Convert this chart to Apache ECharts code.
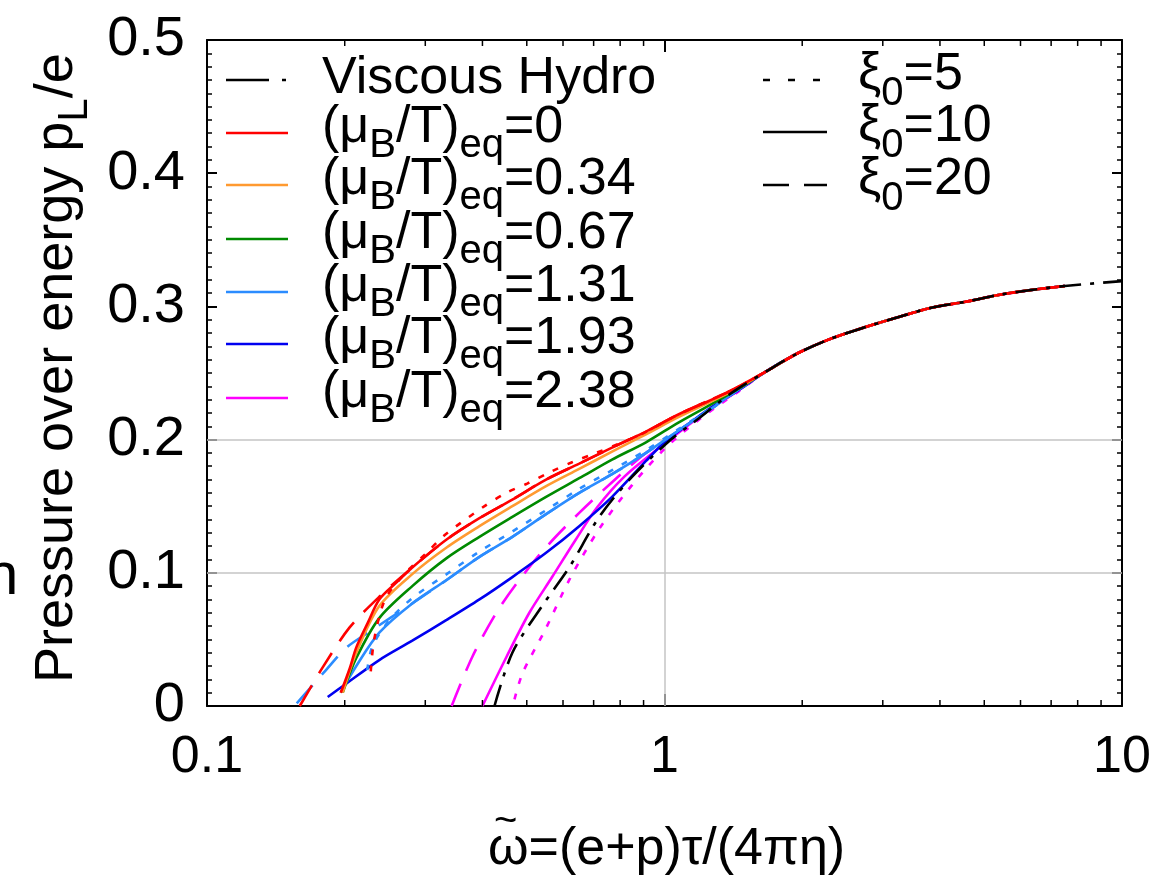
<!DOCTYPE html>
<html><head><meta charset="utf-8">
<script src="https://cdn.jsdelivr.net/npm/echarts@6/dist/echarts.min.js"></script>
<style>html,body{margin:0;padding:0;background:#fff}#c{width:1158px;height:880px}</style>
</head><body><div id="c"></div>
<script>
// ---------- data (x = omega tilde, y = pL/e) ----------
const xTicks = [0.1, 1, 10];
const yTicks = [0, 0.1, 0.2, 0.3, 0.4, 0.5];
const xMinorTicks = [0.2,0.3,0.4,0.5,0.6,0.7,0.8,0.9,2,3,4,5,6,7,8,9];
const gridY = [0.1, 0.2];
const gridX = [1];

// common late-time tail shared by the kinetic curves
const tail = [[1.665,0.251],[1.96,0.265],[2.32,0.276],[2.75,0.2845],[3.25,0.292],[3.83,0.299],[4.55,0.3035],[5.37,0.3086],[6.33,0.3123],[7.5,0.3153]];

const hydro = [[0.425,0.0],[0.465,0.040],[0.54,0.075],[0.619,0.104],[0.72,0.142],[0.849,0.172],[1.033,0.200],[1.19,0.216],[1.40,0.235],[1.665,0.251],[1.96,0.265],[2.32,0.276],[2.75,0.2845],[3.25,0.292],[3.83,0.299],[4.55,0.3035],[5.37,0.3086],[6.33,0.3123],[7.5,0.3153],[10,0.319]];

const red10 = [[0.196,0.010],[0.205,0.028],[0.212,0.044],[0.225,0.063],[0.238,0.080],[0.26,0.093],[0.281,0.104],[0.334,0.125],[0.394,0.141],[0.465,0.155],[0.551,0.170],[0.651,0.182],[0.768,0.194],[0.911,0.206],[1.075,0.219],[1.25,0.229],[1.40,0.237]];
const red5  = [[0.228,0.026],[0.232,0.050],[0.245,0.080],[0.27,0.099],[0.302,0.115],[0.330,0.128],[0.40,0.149],[0.451,0.160],[0.501,0.167],[0.565,0.176],[0.628,0.183],[0.709,0.190],[0.796,0.197],[0.889,0.204],[1.075,0.219],[1.40,0.237]];
const red20 = [[0.1595,0.0],[0.179,0.029],[0.205,0.059],[0.238,0.082],[0.281,0.104],[0.334,0.125],[0.394,0.141],[0.465,0.155],[0.551,0.170],[0.651,0.182],[0.768,0.194],[0.911,0.206],[1.075,0.219],[1.40,0.237]];
const orange10 = [[0.198,0.010],[0.212,0.040],[0.238,0.075],[0.281,0.099],[0.334,0.119],[0.394,0.135],[0.465,0.150],[0.551,0.165],[0.651,0.178],[0.768,0.191],[0.911,0.204],[1.075,0.217],[1.40,0.236]];
const green10 = [[0.198,0.010],[0.212,0.036],[0.238,0.066],[0.281,0.090],[0.334,0.111],[0.394,0.127],[0.465,0.142],[0.551,0.157],[0.651,0.171],[0.768,0.185],[0.911,0.198],[1.075,0.213],[1.40,0.235]];
const lblue10 = [[0.196,0.010],[0.212,0.030],[0.238,0.055],[0.281,0.077],[0.334,0.0946],[0.394,0.112],[0.465,0.127],[0.551,0.144],[0.651,0.160],[0.768,0.174],[0.911,0.190],[1.075,0.207],[1.27,0.2235],[1.40,0.2340]];
const lblue5  = [[0.224,0.027],[0.230,0.045],[0.25,0.064],[0.281,0.081],[0.334,0.099],[0.394,0.116],[0.465,0.131],[0.551,0.147],[0.651,0.163],[0.768,0.177],[0.911,0.192],[1.075,0.208],[1.27,0.224],[1.40,0.234]];
const lblue20 = [[0.1571,0.002],[0.182,0.027],[0.202,0.044],[0.227,0.056],[0.281,0.077],[0.334,0.0946],[0.394,0.112],[0.465,0.127],[0.551,0.144],[0.651,0.160],[0.768,0.174],[0.911,0.190],[1.075,0.207],[1.27,0.2235],[1.40,0.2340]];
const blue10 = [[0.1836,0.0068],[0.2,0.016],[0.238,0.0345],[0.281,0.049],[0.334,0.0646],[0.394,0.080],[0.465,0.0968],[0.551,0.115],[0.651,0.135],[0.768,0.157],[0.911,0.184],[1.0,0.198],[1.1,0.209],[1.25,0.223],[1.45,0.237]];
const mag20 = [[0.3426,0.0],[0.38,0.0368],[0.429,0.070],[0.4815,0.0946],[0.5515,0.1194],[0.651,0.145],[0.768,0.168],[0.911,0.190],[1.075,0.206],[1.25,0.222],[1.45,0.237]];
const mag10 = [[0.40,0.0],[0.4516,0.037],[0.5065,0.070],[0.568,0.0968],[0.64,0.125],[0.712,0.149],[0.816,0.172],[0.958,0.192],[1.1,0.208],[1.25,0.222],[1.45,0.237]];
const mag5  = [[0.47,0.005],[0.49,0.025],[0.55,0.058],[0.62,0.095],[0.72,0.133],[0.85,0.166],[1.0,0.193],[1.2,0.216],[1.45,0.236]];

const muLabels = ['0','0.34','0.67','1.31','1.93','2.38'];
const xiLabels = ['5','10','20'];

// ---------- styling ----------
const FONT = '"Liberation Sans", Arial, Helvetica, sans-serif';
const C = {red:'#ff0000', orange:'#ff9a30', green:'#008a00', lblue:'#2b8cff', blue:'#0000f0', mag:'#ff00ff', black:'#000000'};
const DOT = [6,10], DASH = [24,14], DASHDOT = [22,9,4,9];
const LF = 52, SF = 40;  // legend font, subscript font

const ctx2 = document.createElement('canvas').getContext('2d');
function tw(t, s){ ctx2.font = s + 'px ' + FONT; return ctx2.measureText(t).width; }
function txt(x, base, t, s, extra){
  return Object.assign({type:'text', x:x, y:base - 0.347*s, silent:true,
    style:{text:t, font: s+'px '+FONT, fill:'#000', align:'left', verticalAlign:'middle'}}, extra||{});
}
function rich(x0, base, parts){
  const out=[]; let x=x0;
  parts.forEach(p=>{ out.push(txt(x, base+(p.dy||0), p.t, p.s)); x += tw(p.t,p.s) + (p.g||0); });
  return out;
}
function lineEl(x1,x2,y,color,dash){
  return {type:'line', silent:true, shape:{x1:x1,y1:y,x2:x2,y2:y}, style:{stroke:color, lineWidth:2.5, lineDash:dash||null}};
}

function mk(name, data, color, dash, z){
  return {type:'line', name:name, data:data, showSymbol:false, symbol:'none', smooth:0.3, z:z||3,
    lineStyle:{color:color, width:2.6, type: dash||'solid', cap:'butt'}, animation:false, silent:true};
}

const series = [
  {type:'line', data:[], z:1, silent:true, markLine:{silent:true, symbol:['none','none'], z:1, animation:false,
    label:{show:false}, lineStyle:{color:'#c4c4c4', width:1.5, type:'solid'},
    data: gridY.map(v=>({yAxis:v})).concat(gridX.map(v=>[{coord:[v,0]},{coord:[v,0.2]}]))}},
  mk('mag5', mag5.concat(tail), C.mag, DOT),
  mk('mag10', mag10.concat(tail), C.mag),
  mk('mag20', mag20.concat(tail), C.mag, DASH),
  mk('blue10', blue10.concat(tail), C.blue),
  mk('lblue20', lblue20.concat(tail), C.lblue, DASH),
  mk('lblue5', lblue5.concat(tail), C.lblue, DOT),
  mk('lblue10', lblue10.concat(tail), C.lblue),
  mk('green10', green10.concat(tail), C.green),
  mk('orange10', orange10.concat(tail), C.orange),
  mk('red20', red20.concat(tail), C.red, DASH),
  mk('red5', red5.concat(tail), C.red, DOT),
  mk('red10', red10.concat(tail), C.red),
  mk('hydro', hydro, C.black, DASHDOT, 4),
  {type:'custom', z:6, silent:true, animation:false, data: xMinorTicks.map(v=>[v, 0]),
    renderItem:function(params, api){
      const b = api.coord([api.value(0), 0]);
      const t = api.coord([api.value(0), 0.5]);
      return {type:'group', children:[
        {type:'line', shape:{x1:b[0],y1:b[1],x2:b[0],y2:b[1]-6}, style:{stroke:'#000', lineWidth:1.5}},
        {type:'line', shape:{x1:t[0],y1:t[1],x2:t[0],y2:t[1]+6}, style:{stroke:'#000', lineWidth:1.5}}
      ]};
    }}
];

// ---------- legend / titles as graphics ----------
const g = [];
const legY = [80,133,185,239,292,344,398];
const legCol = [C.red, C.orange, C.green, C.lblue, C.blue, C.mag];
g.push(lineEl(226,288,legY[0],C.black,[43,13,4,13]));
g.push(txt(322, 97, 'Viscous Hydro', LF));
muLabels.forEach((m,i)=>{
  const y = legY[i+1];
  g.push(lineEl(226,288,y,legCol[i]));
  rich(322, y+13, [{t:'(μ',s:LF},{t:'B',s:SF,dy:14},{t:'/T)',s:LF},{t:'eq',s:SF,dy:14},{t:'='+m,s:LF}]).forEach(e=>g.push(e));
});
const xiY=[80,132,185];
const xiDash=[[7,18],null,[26,15]];
xiLabels.forEach((v,i)=>{
  g.push(lineEl(763,827,xiY[i],C.black,xiDash[i]));
  rich(858, xiY[i]+13, [{t:'ξ',s:LF},{t:'0',s:SF,dy:15},{t:'='+v,s:LF}]).forEach(e=>g.push(e));
});
// x-axis title
g.push(txt(494, 836, '~', 40));
rich(488, 868, [{t:'ω=(e+p)τ/(4πη)', s:52}]).forEach(e=>g.push(e));
// y-axis title (rotated)
g.push({type:'group', x:76, y:683, rotation:Math.PI/2, silent:true,
  children: rich(0, 0, [{t:'Pressure over energy p',s:54},{t:'L',s:42,dy:14},{t:'/e',s:54}])});
// stray clipped glyph at left edge
g.push(txt(-15, 598, 'n', 60));

const option = {
  animation:false,
  backgroundColor:'#fff',
  grid:{left:207, right:36, top:40, bottom:174, containLabel:false},
  xAxis:[
    {type:'log', logBase:10, min:0.1, max:10, position:'bottom',
     axisLine:{show:true, onZero:false, lineStyle:{color:'#000', width:2}},
     axisTick:{show:true, inside:true, length:12, lineStyle:{color:'#000', width:2}},
     axisLabel:{show:true, margin:26, color:'#000', fontSize:52, fontFamily:FONT,
       formatter:v=>String(xTicks.find(t=>Math.abs(t-v)<1e-9) ?? v)},
     splitLine:{show:false}},
    {type:'log', logBase:10, min:0.1, max:10, position:'top',
     axisLine:{show:true, onZero:false, lineStyle:{color:'#000', width:2}},
     axisTick:{show:true, inside:true, length:12, lineStyle:{color:'#000', width:2}},
     axisLabel:{show:false}, splitLine:{show:false}}
  ],
  yAxis:[
    {type:'value', min:0, max:0.5, interval:0.1, position:'left',
     axisLine:{show:true, onZero:false, lineStyle:{color:'#000', width:2}},
     axisTick:{show:true, inside:true, length:10, lineStyle:{color:'#000', width:2}},
     minorTick:{show:true, splitNumber:10, length:5, lineStyle:{color:'#000', width:1.5}},
     axisLabel:{show:true, margin:22, color:'#000', fontSize:56, fontFamily:FONT,
       formatter:v=> v===0 ? '0' : v.toFixed(1)},
     splitLine:{show:false}},
    {type:'value', min:0, max:0.5, interval:0.1, position:'right',
     axisLine:{show:true, onZero:false, lineStyle:{color:'#000', width:2}},
     axisTick:{show:true, inside:true, length:10, lineStyle:{color:'#000', width:2}},
     minorTick:{show:true, splitNumber:10, length:5, lineStyle:{color:'#000', width:1.5}},
     axisLabel:{show:false}, splitLine:{show:false}}
  ],
  series: series,
  graphic: g
};
const chart = echarts.init(document.getElementById('c'), null, {renderer:'canvas'});
chart.setOption(option);
</script>
</body></html>
